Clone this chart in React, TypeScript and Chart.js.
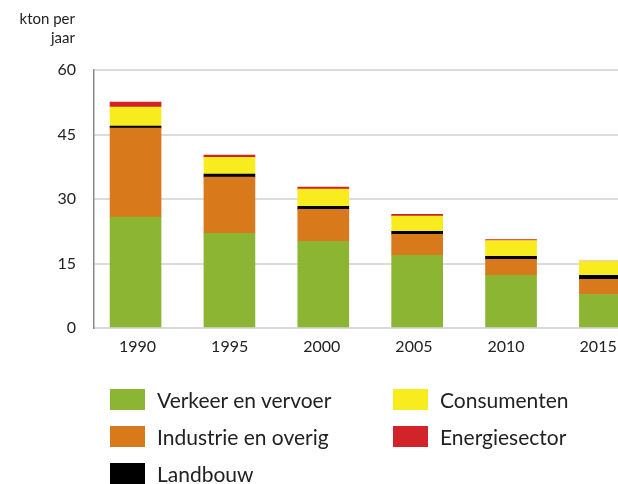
import React, { useEffect, useRef } from "react";
import { Chart, registerables } from "chart.js";

Chart.register(...registerables);

const years = [1990, 1995, 2000, 2005, 2010, 2015];
const verkeer = [25.8, 22.0, 20.15, 16.9, 12.25, 7.8];
const industrie = [20.7, 13.1, 7.45, 4.9, 3.7, 3.5];
const landbouw = [0.45, 0.7, 0.7, 0.7, 0.7, 0.95];
const consumenten = [4.45, 3.9, 4.0, 3.5, 3.7, 3.25];
const energie = [1.15, 0.5, 0.45, 0.45, 0.2, 0.05];
const yTicks = [0, 15, 30, 45, 60];

const seriesNames = [
  "Verkeer en vervoer",
  "Industrie en overig",
  "Landbouw",
  "Consumenten",
  "Energiesector",
];
const seriesValues = [verkeer, industrie, landbouw, consumenten, energie];
const seriesColors = ["#8bb533", "#d8791b", "#000000", "#f8ec1f", "#d2232a"];

const FONT = "Lato, 'Noto Sans', sans-serif";
const CANVAS_W = 626;

export default function App() {
  const ref = useRef<HTMLCanvasElement | null>(null);

  useEffect(() => {
    if (!ref.current) return;
    const chart = new Chart(ref.current, {
      type: "bar",
      data: {
        datasets: seriesNames.map((name, i) => ({
          label: name,
          data: years.map((yr, j) => ({ x: yr, y: seriesValues[i][j] })),
          backgroundColor: seriesColors[i],
          borderWidth: 0,
          barThickness: 51,
          xAxisID: "x",
          yAxisID: "y",
        })),
      },
      options: {
        animation: false,
        responsive: false,
        maintainAspectRatio: false,
        layout: { padding: { top: 70, left: 0, right: 0, bottom: 126 } },
        plugins: {
          legend: { display: false },
          tooltip: { enabled: false },
          title: { display: false },
        },
        scales: {
          x: {
            type: "linear",
            display: false,
            stacked: true,
            offset: false,
            grid: { offset: false },
            min: 1987.787,
            max: 2015.733,
          },
          x2: {
            type: "linear",
            position: "bottom",
            offset: false,
            min: 1987.636,
            max: 2016.114,
            grid: { display: false, drawTicks: false, offset: false },
            border: { display: true, color: "#d9d9d9", width: 2 },
            afterBuildTicks: (scale: any) => {
              scale.ticks = years.map((v) => ({ value: v }));
            },
            afterFit: (scale: any) => {
              scale.height = 30;
            },
            ticks: {
              padding: 9,
              color: "#222",
              font: { family: FONT, size: 16 },
              maxRotation: 0,
              autoSkip: false,
              callback: (v: any) => String(v),
            },
          },
          y: {
            type: "linear",
            stacked: true,
            min: 0,
            max: 60,
            afterBuildTicks: (scale: any) => {
              scale.ticks = yTicks.map((v) => ({ value: v }));
            },
            afterFit: (scale: any) => {
              scale.width = 94;
            },
            grid: { color: "#dcdcdc", lineWidth: 2, drawTicks: false },
            border: { display: true, color: "#8a8a8a", width: 1.5 },
            ticks: {
              padding: 18,
              color: "#222",
              font: { family: FONT, size: 16 },
              callback: (v: any) => String(v),
            },
          },
        },
      },
    });
    return () => chart.destroy();
  }, []);

  return (
    <div
      style={{
        position: "fixed",
        left: 0,
        top: 0,
        width: 618,
        height: 484,
        overflow: "hidden",
        background: "#fff",
        fontFamily: FONT,
      }}
    >
      <canvas
        ref={ref}
        width={CANVAS_W}
        height={484}
        style={{ position: "absolute", left: 0, top: 0, width: CANVAS_W, height: 484 }}
      />
      <div
        style={{
          position: "absolute",
          right: 618 - 75,
          top: 9,
          textAlign: "right",
          fontSize: 15,
          lineHeight: "19px",
          color: "#222",
          whiteSpace: "nowrap",
        }}
      >
        kton per
        <br />
        jaar
      </div>
      <div
        style={{
          position: "absolute",
          left: 110,
          top: 389,
          display: "grid",
          gridTemplateRows: "repeat(3, 21px)",
          gridAutoFlow: "column",
          gridTemplateColumns: "283px 200px",
          rowGap: 16,
        }}
      >
        {seriesNames.map((name, i) => (
          <div
            key={name}
            style={{ display: "flex", alignItems: "center", height: 21, whiteSpace: "nowrap" }}
          >
            <span
              style={{
                display: "inline-block",
                width: 35,
                height: 21,
                background: seriesColors[i],
                marginRight: 12,
              }}
            />
            <span style={{ fontSize: 21, color: "#222" }}>{name}</span>
          </div>
        ))}
      </div>
    </div>
  );
}
